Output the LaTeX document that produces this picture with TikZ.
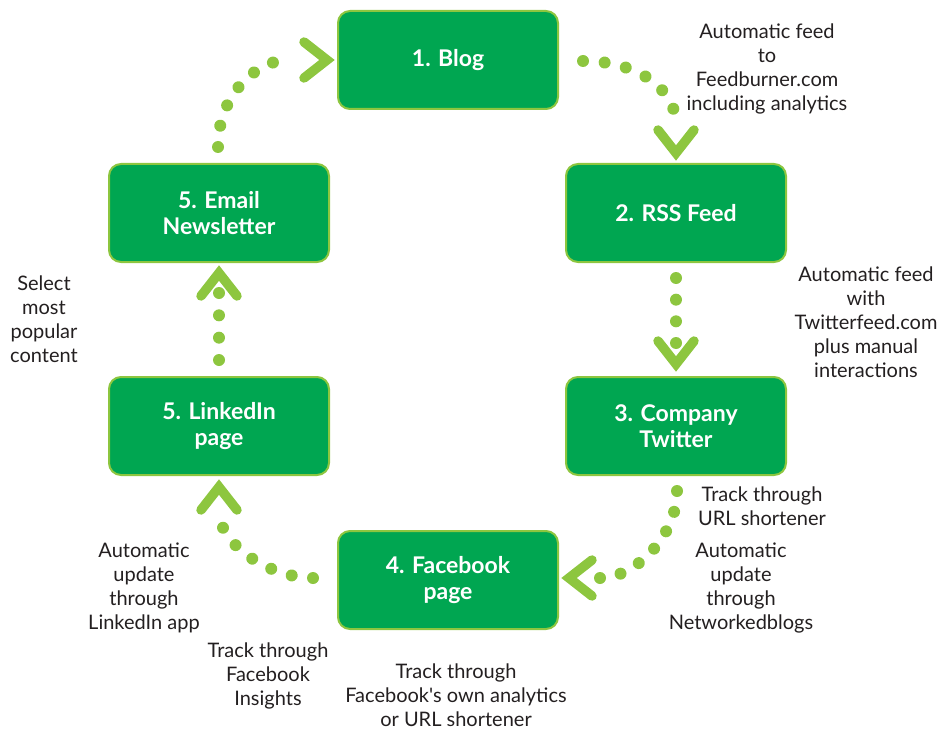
\documentclass[tikz,border=0pt]{standalone}
\usepackage{fontspec}
\setmainfont{Lato}
\usetikzlibrary{calc,decorations.markings}
\definecolor{stagefill}{HTML}{00A651}
\definecolor{leafgreen}{HTML}{8DC63F}
\definecolor{notegray}{HTML}{231F20}

\begin{document}
\begin{tikzpicture}[
  x=1pt,
  y=-1pt,
  stage/.style={draw=leafgreen, line width=2pt, fill=stagefill, rounded corners=12pt,
    minimum width=220pt, minimum height=98pt, align=center, text=white,
    font=\fontsize{23}{26}\selectfont\bfseries},
  note/.style={align=center, text=notegray, font=\fontsize{20}{24}\selectfont},
  dots/.style={decoration={markings,
    mark=between positions 0 and 1 step #1 with {\fill[leafgreen] (0,0) circle (6pt);}},
    decorate},
  chevron/.style={draw=leafgreen, line width=9.5pt, line cap=round, line join=miter}
]
  \useasboundingbox (0,0) rectangle (941,730);

  % stages
  \node[stage] (blog) at (448,60) {1. Blog};
  \node[stage] (rss) at (676,213) {2. RSS Feed};
  \node[stage] (twitter) at (676,426) {3. Company\\Twitter};
  \node[stage] (facebook) at (448,580) {4. Facebook\\page};
  \node[stage] (linkedin) at (219,426) {5. LinkedIn\\page};
  \node[stage] (email) at (219,213) {5. Email\\Newsletter};

  % Blog -> RSS Feed
  \coordinate (c1a) at ($(blog.east)+(24,1)$);
  \coordinate (c1b) at ($(rss.north)+(1,-33)$);
  \coordinate (t1) at ($(rss.north)+(0,-10)$);
  \path[dots=0.16666] (c1a) .. controls +(50,0) and +(0,-45) .. (c1b);
  \draw[chevron] ($(t1)+(-18,-23)$) -- (t1) -- ($(t1)+(18,-23)$);

  % RSS Feed -> Company Twitter
  \coordinate (c2a) at ($(rss.south)+(0,15)$);
  \coordinate (c2b) at ($(twitter.north)+(0,-33)$);
  \coordinate (t2) at ($(twitter.north)+(0,-12)$);
  \path[dots=0.33333] (c2a) -- (c2b);
  \draw[chevron] ($(t2)+(-18,-23)$) -- (t2) -- ($(t2)+(18,-23)$);

  % Company Twitter -> Facebook page
  \coordinate (c3a) at ($(twitter.south)+(1,15)$);
  \coordinate (c3b) at ($(facebook.east)+(41,-2)$);
  \coordinate (t3) at ($(facebook.east)+(10,-2)$);
  \path[dots=0.16666] (c3a) .. controls +(0,45) and +(35,0) .. (c3b);
  \draw[chevron] ($(t3)+(23,-18)$) -- (t3) -- ($(t3)+(23,18)$);

  % Facebook page -> LinkedIn page
  \coordinate (c4a) at ($(facebook.west)+(-24,-2)$);
  \coordinate (c4b) at ($(linkedin.south)+(-1,31)$);
  \coordinate (t4) at ($(linkedin.south)+(0,11)$);
  \path[dots=0.16666] (c4a) .. controls +(-40,0) and +(0,40) .. (c4b);
  \draw[chevron] ($(t4)+(-18,23)$) -- (t4) -- ($(t4)+(18,23)$);

  % LinkedIn page -> Email Newsletter
  \coordinate (c5a) at ($(linkedin.north)+(0,-16)$);
  \coordinate (c5b) at ($(email.south)+(0,30)$);
  \coordinate (t5) at ($(email.south)+(0,10)$);
  \path[dots=0.33333] (c5a) -- (c5b);
  \draw[chevron] ($(t5)+(-18,23)$) -- (t5) -- ($(t5)+(18,23)$);

  % Email Newsletter -> Blog
  \coordinate (c6a) at ($(email.north)+(-1,-16)$);
  \coordinate (c6b) at ($(blog.west)+(-43,-1)$);
  \coordinate (t6) at ($(blog.west)+(-10,0)$);
  \path[dots=0.16666] (c6a) .. controls +(0,-50) and +(-40,0) .. (c6b);
  \draw[chevron] ($(t6)+(-23,-18)$) -- (t6) -- ($(t6)+(-23,18)$);

  % notes
  \node[note] (nfeed) at (767,69) {Automatic feed\\to\\Feedburner.com\\including analytics};
  \node[note] (ntwfeed) at (866,322) {Automatic feed\\with\\Twitterfeed.com\\plus manual\\interactions};
  \node[note] (nurl) at (762,506) {Track through\\URL shortener};
  \node[note] (nnet) at (741,588) {Automatic\\update\\through\\Networkedblogs};
  \node[note] (nown) at (456,695) {Track through\\Facebook\textquotesingle s own analytics\\or URL shortener};
  \node[note] (ninsight) at (268,676) {Track through\\Facebook\\Insights};
  \node[note] (nlinked) at (144,588) {Automatic\\update\\through\\LinkedIn app};
  \node[note] (nselect) at (44,319) {Select\\most\\popular\\content};
\end{tikzpicture}
\end{document}
